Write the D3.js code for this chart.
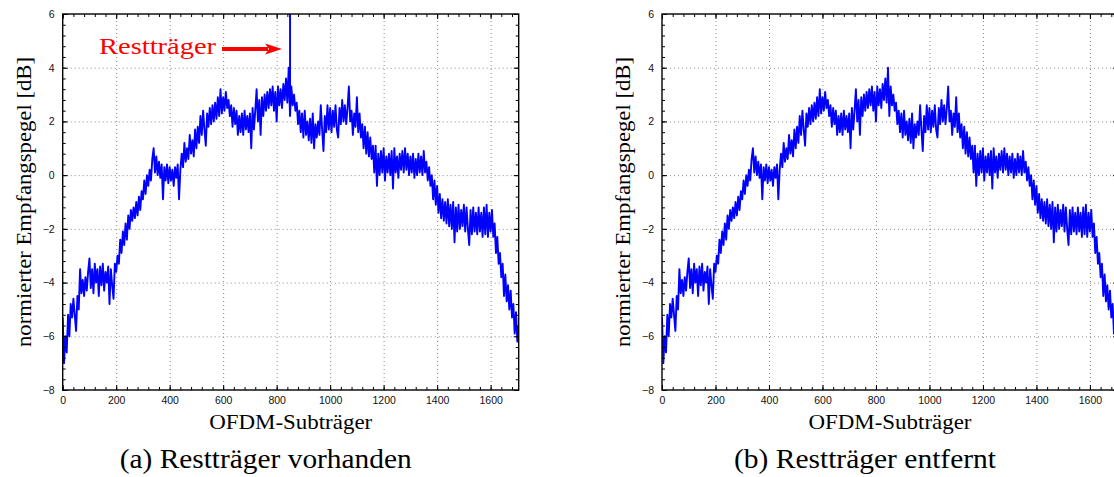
<!DOCTYPE html>
<html>
<head>
<meta charset="utf-8">
<script src="https://cdn.jsdelivr.net/npm/d3@7"></script>
<style>
body{margin:0;background:#fff;overflow:hidden;}
svg{display:block;}
.serif{font-family:"Liberation Serif","DejaVu Serif",serif;}
.sans{font-family:"Liberation Sans",Arial,sans-serif;}
</style>
</head>
<body>
<svg id="chart" width="1114" height="477"></svg>
<script>
var subtraegerSchritt = 5;
var pegel = [
    -5.3,-7.0,-6.0,-6.6,-5.2,-6.0,-4.8,-5.3,-4.6,-5.2,-5.8,-4.5,-5.0,-3.5,-4.4,-3.9,-4.5,-3.8,-4.3,-3.6,
    -3.1,-4.2,-3.5,-4.4,-3.3,-4.0,-3.5,-4.5,-3.4,-4.1,-3.3,-4.3,-3.6,-4.0,-3.4,-4.8,-3.5,-4.1,-4.6,-3.3,
    -3.6,-3.0,-3.3,-2.4,-2.9,-2.1,-2.6,-1.8,-2.4,-1.5,-2.0,-1.3,-1.7,-1.2,-1.6,-1.0,-1.5,-0.8,-1.3,-0.6,
    -0.9,-0.2,-0.7,0.0,-0.4,0.2,-0.2,0.6,1.0,0.1,0.7,0.0,0.5,-0.1,0.4,-0.9,0.3,-0.2,0.4,-0.3,
    0.3,-0.2,0.2,-0.4,0.3,-0.1,0.4,-0.9,0.2,0.8,0.3,1.2,0.5,1.0,0.6,1.5,0.8,1.3,0.7,1.7,
    1.0,1.8,1.2,2.2,1.5,2.4,1.7,1.1,2.3,1.8,2.5,1.9,2.6,2.0,2.7,2.1,2.9,2.2,3.2,2.3,
    2.9,2.4,3.1,2.5,2.8,2.2,2.6,1.8,2.5,1.9,2.4,1.5,2.2,1.6,2.3,1.5,2.4,1.7,2.2,1.6,
    2.3,1.0,2.5,1.7,2.4,3.2,2.0,2.8,1.5,2.9,2.2,3.0,2.4,3.1,2.5,3.2,2.6,3.3,2.4,3.1,
    2.0,3.3,2.6,3.2,2.5,3.4,2.8,3.6,2.7,4.0,2.2,3.3,2.6,3.0,2.4,2.7,1.9,2.4,1.6,2.3,
    1.4,2.4,1.5,2.0,1.3,2.1,1.2,2.3,1.0,1.9,1.4,2.0,1.5,2.6,1.7,0.9,2.2,1.6,2.6,1.7,
    2.5,1.6,2.4,1.8,2.6,1.7,1.4,2.5,1.9,2.8,2.0,2.6,1.9,2.5,3.3,2.0,2.4,1.5,2.3,1.8,
    2.9,1.6,2.3,1.4,1.9,1.0,1.8,0.8,1.6,0.7,1.4,0.6,1.1,0.1,1.1,-0.4,0.8,0.0,0.9,0.1,
    1.0,-0.2,0.7,0.1,0.8,0.0,0.9,-0.5,1.0,0.1,0.7,-0.1,0.8,0.2,0.9,0.1,1.0,0.2,0.8,0.0,
    0.7,0.1,0.8,-0.1,0.6,0.0,0.8,0.1,0.7,0.0,0.9,0.1,0.5,-0.2,0.3,-0.4,0.0,-0.9,-0.2,-1.1,
    -0.4,-1.4,-0.7,-1.6,-0.9,-1.7,-1.0,-1.8,-0.9,-1.9,-1.1,-2.0,-1.0,-2.5,-1.2,-2.1,-1.1,-2.0,-1.3,-1.9,
    -1.1,-2.1,-1.2,-2.0,-2.6,-1.3,-2.2,-1.2,-2.1,-1.4,-2.2,-1.2,-2.1,-1.4,-2.3,-1.2,-2.2,-1.1,-2.3,-1.4,
    -2.1,-1.3,-2.3,-1.8,-2.9,-2.3,-3.3,-2.9,-3.8,-3.3,-4.5,-3.7,-4.7,-4.1,-5.0,-4.3,-5.3,-4.8,-5.9,-5.1,-6.2,-5.6
];

// Resttraeger (nur in Bild a), Spitze ragt ueber den Achsenbereich
var resttraegerIndex = 850;
var resttraegerPegel = 8;

var xTicks = [0, 200, 400, 600, 800, 1000, 1200, 1400, 1600];
var yTicks = [-8, -6, -4, -2, 0, 2, 4, 6];
var xDomain = [0, 1705];
var yDomain = [-8, 6];

var panelTitel = ['(a) Restträger vorhanden', '(b) Restträger entfernt'];
var xLabel = 'OFDM-Subträger';
var yLabel = 'normierter Empfangspegel [dB]';
var pfeilText = 'Restträger';

var plotW = 456, plotH = 376;

// Serien aufbauen
var serieB = pegel.map(function(v, i){ return [i*subtraegerSchritt, v]; });
var serieA = serieB.slice();
var k = resttraegerIndex/subtraegerSchritt;
serieA.splice(k+1, 0, [resttraegerIndex, resttraegerPegel], [resttraegerIndex, pegel[k]]);

var panels = [
    {id:'a', left:62.7, top:14, serie:serieA, titel:panelTitel[0], titelBreite:292, pfeil:true},
    {id:'b', left:662, top:14, serie:serieB, titel:panelTitel[1], titelBreite:262, pfeil:false}
];

var svg = d3.select('#chart');

var x = d3.scaleLinear().domain(xDomain).range([0, plotW]);
var y = d3.scaleLinear().domain(yDomain).range([plotH, 0]);

var xMinor = d3.range(0, 1706, 40);
var yMinor = d3.range(-8, 6.001, 0.4);

function styleAxis($a){
    $a.attr('font-family', null).attr('font-size', null);
    $a.select('.domain').remove();
    $a.selectAll('line').attr('stroke', '#000').attr('stroke-width', 1);
    $a.selectAll('text')
        .classed('sans', true)
        .style('font-size', '10.5px')
        .attr('fill', '#111');
    return $a;
}

function drawPanel(p){
    var $g = svg.append('g').attr('transform', 'translate(' + p.left + ',' + p.top + ')');

    $g.append('clipPath').attr('id', 'clip-' + p.id)
        .append('rect').attr('width', plotW).attr('height', plotH);

    //gitter
    var $gx = $g.append('g')
        .attr('transform', 'translate(0,' + plotH + ')')
        .call(d3.axisBottom(x).tickValues(xTicks.slice(1)).tickSize(-plotH).tickFormat(''));
    var $gy = $g.append('g')
        .call(d3.axisLeft(y).tickValues(yTicks.slice(1, -1)).tickSize(-plotW).tickFormat(''));
    [$gx, $gy].forEach(function($a){
        $a.select('.domain').remove();
        $a.selectAll('line')
            .attr('stroke', '#8a8a8a')
            .attr('stroke-width', 1)
            .attr('stroke-dasharray', '1,3');
    });

    //kurve
    var line = d3.line()
        .x(function(d){ return x(d[0]); })
        .y(function(d){ return y(d[1]); });
    $g.append('path')
        .datum(p.serie)
        .attr('clip-path', 'url(#clip-' + p.id + ')')
        .attr('d', line)
        .attr('fill', 'none')
        .attr('stroke', '#0000ff')
        .attr('stroke-width', 1.9)
        .attr('stroke-linejoin', 'round');

    //achsen mit haupt- und nebenstrichen, innen liegend
    styleAxis($g.append('g').attr('transform', 'translate(0,' + plotH + ')')
        .call(d3.axisBottom(x).tickValues(xTicks).tickSizeInner(-5).tickSizeOuter(0).tickPadding(7).tickFormat(d3.format('d'))));
    styleAxis($g.append('g').attr('transform', 'translate(0,' + plotH + ')')
        .call(d3.axisBottom(x).tickValues(xMinor).tickSize(-3).tickFormat('')));
    styleAxis($g.append('g')
        .call(d3.axisTop(x).tickValues(xTicks).tickSize(-5).tickFormat('')));
    styleAxis($g.append('g')
        .call(d3.axisTop(x).tickValues(xMinor).tickSize(-3).tickFormat('')));
    styleAxis($g.append('g')
        .call(d3.axisLeft(y).tickValues(yTicks).tickSizeInner(-5).tickSizeOuter(0).tickPadding(8).tickFormat(d3.format('d'))));
    styleAxis($g.append('g')
        .call(d3.axisLeft(y).tickValues(yMinor).tickSize(-3).tickFormat('')));
    styleAxis($g.append('g').attr('transform', 'translate(' + plotW + ',0)')
        .call(d3.axisRight(y).tickValues(yTicks).tickSize(-5).tickFormat('')));
    styleAxis($g.append('g').attr('transform', 'translate(' + plotW + ',0)')
        .call(d3.axisRight(y).tickValues(yMinor).tickSize(-3).tickFormat('')));

    //rahmen
    $g.append('rect')
        .attr('width', plotW).attr('height', plotH)
        .attr('fill', 'none')
        .attr('stroke', '#000')
        .attr('stroke-width', 1.4);

    //beschriftung
    $g.append('text')
        .classed('serif', true)
        .attr('x', plotW/2).attr('y', 415)
        .attr('text-anchor', 'middle')
        .style('font-size', '21px')
        .attr('textLength', 163).attr('lengthAdjust', 'spacingAndGlyphs')
        .text(xLabel);

    $g.append('text')
        .classed('serif', true)
        .attr('transform', 'translate(-31.7,' + (plotH/2) + ') rotate(-90)')
        .attr('text-anchor', 'middle')
        .style('font-size', '21px')
        .attr('textLength', 290).attr('lengthAdjust', 'spacingAndGlyphs')
        .text(yLabel);

    $g.append('text')
        .classed('serif', true)
        .attr('x', plotW/2 - 25).attr('y', 454)
        .attr('text-anchor', 'middle')
        .style('font-size', '27px')
        .attr('textLength', p.titelBreite).attr('lengthAdjust', 'spacingAndGlyphs')
        .text(p.titel);

    if(p.pfeil){
        var xs = x(resttraegerIndex);
        var yp = y(4.7);
        var tip = xs - 8;
        $g.append('line')
            .attr('x1', tip - 60).attr('y1', yp)
            .attr('x2', tip - 14).attr('y2', yp)
            .attr('stroke', '#ff0000').attr('stroke-width', 4);
        $g.append('path')
            .attr('d', 'M' + (tip - 17) + ',' + (yp - 5.5) + 'L' + tip + ',' + yp + 'L' + (tip - 17) + ',' + (yp + 5.5) + 'L' + (tip - 13) + ',' + yp + 'Z')
            .attr('fill', '#ff0000');
        $g.append('text')
            .classed('serif', true)
            .attr('x', tip - 66).attr('y', yp + 5)
            .attr('text-anchor', 'end')
            .style('font-size', '24px')
            .attr('fill', '#ff0000')
            .attr('textLength', 117).attr('lengthAdjust', 'spacingAndGlyphs')
            .text(pfeilText);
    }
}

panels.forEach(drawPanel);
</script>
</body>
</html>
